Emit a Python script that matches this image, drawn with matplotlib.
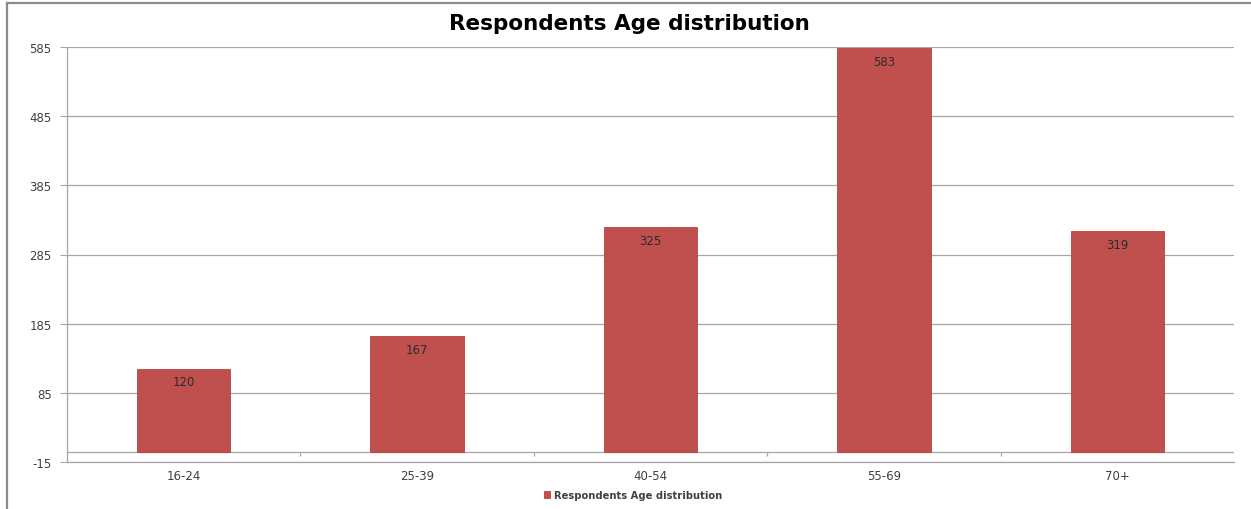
import matplotlib
matplotlib.use("Agg")
import matplotlib.pyplot as plt
from matplotlib.lines import Line2D

plt.rcParams["axes.unicode_minus"] = False

# Age groups and respondent counts
categories = ["16-24", "25-39", "40-54", "55-69", "70+"]
counts = [120, 167, 325, 583, 319]
y_ticks = [-15, 85, 185, 285, 385, 485, 585]
series_name = "Respondents Age distribution"
title = "Respondents Age distribution"

bar_color = "#C0504D"
grid_color = "#A6A6A6"
text_color = "#404040"

W, H = 1251, 510
fig = plt.figure(figsize=(W / 100, H / 100), dpi=100)
fig.patch.set_facecolor("white")

# Outer chart frame (left and top edges)
fx = 7 / W
fy = 1 - 4 / H
fig.add_artist(Line2D([fx, fx], [0, fy], transform=fig.transFigure, color="#8C8C8C", lw=1.6))
fig.add_artist(Line2D([fx, 1], [fy, fy], transform=fig.transFigure, color="#8C8C8C", lw=1.6))

left, right, top, bottom = 67, 1234, 48, 463
ax = fig.add_axes([left / W, 1 - bottom / H, (right - left) / W, (bottom - top) / H])

x = list(range(len(categories)))
bars = ax.bar(x, counts, width=0.4, color=bar_color, edgecolor="#B8403C", linewidth=0.6, zorder=3)

ax.set_xlim(-0.5, len(categories) - 0.5)
ax.set_ylim(y_ticks[0], y_ticks[-1])
ax.set_yticks(y_ticks)
ax.set_xticks(x)
ax.set_xticklabels(categories)

ax.grid(axis="y", color=grid_color, lw=0.9, zorder=0)
ax.grid(axis="x", visible=False)
ax.axhline(0, color=grid_color, lw=0.9, zorder=1)

# Category separators hanging below the zero line
ax.vlines([i + 0.5 for i in range(len(categories) - 1)], -7, 0, color=grid_color, lw=0.9, zorder=1)

for s in ["top", "right"]:
    ax.spines[s].set_visible(False)
for s in ["left", "bottom"]:
    ax.spines[s].set_color(grid_color)
    ax.spines[s].set_linewidth(0.9)

ax.tick_params(axis="y", length=5, color=grid_color, labelsize=8.5, labelcolor=text_color, pad=6)
ax.tick_params(axis="x", length=0, labelsize=8.5, labelcolor=text_color, pad=5)

for rect, v in zip(bars, counts):
    ax.annotate(str(v), (rect.get_x() + rect.get_width() / 2, v),
                xytext=(0, -9.5), textcoords="offset points",
                ha="center", va="center", fontsize=8.5, color="#2B2B2B", zorder=4)

fig.text(629 / W, 1 - 24 / H, title, ha="center", va="center",
         fontsize=15.5, fontweight="bold", color="black")

fig.legend([bars], [series_name], loc="center", bbox_to_anchor=(633 / W, 1 - 496 / H),
           frameon=False, handlelength=0.65, handleheight=0.65,
           handletextpad=0.35, prop={"size": 7.2, "weight": "bold"}, labelcolor=text_color)

fig.savefig("out.png", dpi=100, facecolor="white")
